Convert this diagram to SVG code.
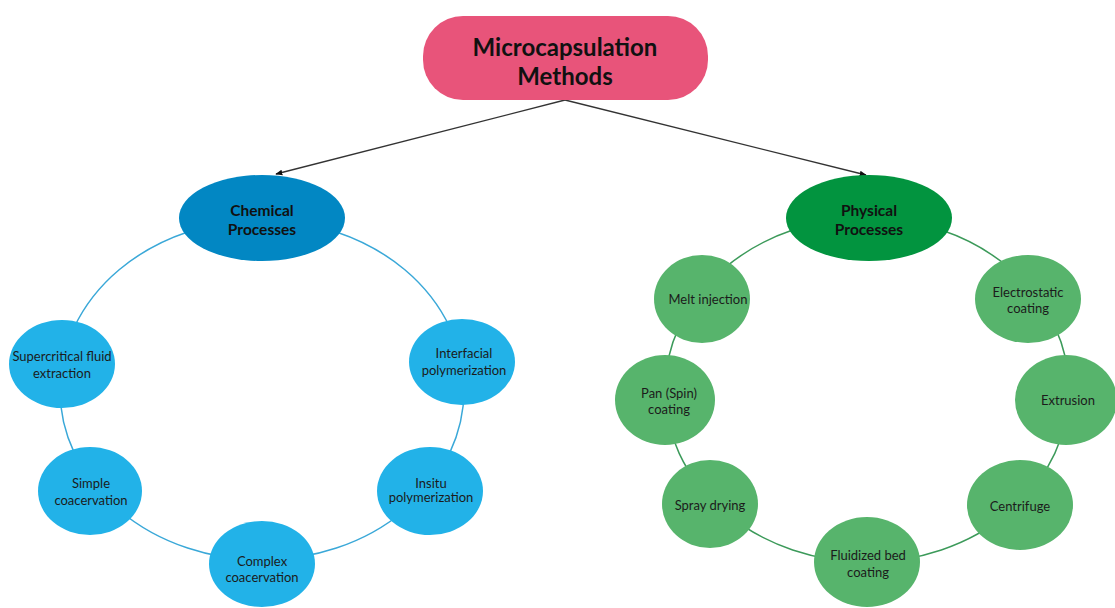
<svg xmlns="http://www.w3.org/2000/svg" width="1115" height="608" viewBox="0 0 1115 608">
<defs>
<marker id="ah" viewBox="0 0 10 10" refX="9" refY="5" markerWidth="7" markerHeight="7" orient="auto" markerUnits="userSpaceOnUse">
<path d="M0,1 L10,5 L0,9 z" fill="#111"/>
</marker>
<style>
text{font-family:Lato,"Noto Sans",sans-serif;text-anchor:middle;fill:#1b1b1b}
.title{font-size:24px;font-weight:bold;fill:#111}
.head{font-size:15.5px;font-weight:bold;fill:#111}
.lab{font-size:13px}
.blue{fill:#22B2E8}
.green{fill:#57B46C}
.ringb{fill:none;stroke:#3AA8D8;stroke-width:1.5}
.ringg{fill:none;stroke:#3C9A5A;stroke-width:1.5}
.arrow{stroke:#333;stroke-width:1.3;fill:none}
</style>
</defs>
<rect width="1115" height="608" fill="#fff"/>
<g id="connectors">
<ellipse class="ringb" cx="262" cy="390" rx="202" ry="170"/>
<ellipse class="ringg" cx="867" cy="390" rx="202" ry="172"/>
<line class="arrow" x1="565" y1="100" x2="276" y2="174" marker-end="url(#ah)"/>
<line class="arrow" x1="565" y1="100" x2="866" y2="175" marker-end="url(#ah)"/>
</g>
<g id="root">
<rect x="423" y="16" width="285" height="84" rx="40" fill="#E8547A"/>
<text class="title" x="565" y="56">Microcapsulation</text>
<text class="title" x="565" y="85">Methods</text>
</g>
<g id="chemical">
<ellipse cx="262" cy="218" rx="83" ry="43" fill="#0287C3"/>
<text class="head" x="262" y="216">Chemical</text>
<text class="head" x="262" y="235">Processes</text>
</g>
<g id="physical">
<ellipse cx="869" cy="218" rx="83" ry="43" fill="#02943F"/>
<text class="head" x="869" y="216">Physical</text>
<text class="head" x="869" y="235">Processes</text>
</g>
<g id="supercritical">
<ellipse class="blue" cx="62" cy="364" rx="53" ry="44"/>
<text class="lab" x="62" y="361">Supercritical fluid</text>
<text class="lab" x="62" y="378">extraction</text>
</g>
<g id="interfacial">
<ellipse class="blue" cx="462" cy="362" rx="53" ry="43"/>
<text class="lab" x="464" y="358">Interfacial</text>
<text class="lab" x="464" y="375">polymerization</text>
</g>
<g id="simple">
<ellipse class="blue" cx="90" cy="491" rx="52" ry="44"/>
<text class="lab" x="91" y="488">Simple</text>
<text class="lab" x="91" y="505">coacervation</text>
</g>
<g id="insitu">
<ellipse class="blue" cx="430" cy="491" rx="53" ry="44"/>
<text class="lab" x="431" y="488">Insitu</text>
<text class="lab" x="431" y="502">polymerization</text>
</g>
<g id="complex">
<ellipse class="blue" cx="262" cy="564" rx="53" ry="43"/>
<text class="lab" x="262" y="566">Complex</text>
<text class="lab" x="262" y="582">coacervation</text>
</g>
<g id="melt">
<ellipse class="green" cx="702" cy="299" rx="48" ry="44"/>
<text class="lab" x="708" y="304">Melt injection</text>
</g>
<g id="electrostatic">
<ellipse class="green" cx="1028" cy="299" rx="53" ry="44"/>
<text class="lab" x="1028" y="297">Electrostatic</text>
<text class="lab" x="1028" y="313">coating</text>
</g>
<g id="pan">
<ellipse class="green" cx="665" cy="400" rx="50" ry="45"/>
<text class="lab" x="669" y="398">Pan (Spin)</text>
<text class="lab" x="669" y="414">coating</text>
</g>
<g id="extrusion">
<ellipse class="green" cx="1066" cy="400" rx="51" ry="45"/>
<text class="lab" x="1068" y="405">Extrusion</text>
</g>
<g id="spray">
<ellipse class="green" cx="710" cy="504" rx="48" ry="44"/>
<text class="lab" x="710" y="510">Spray drying</text>
</g>
<g id="centrifuge">
<ellipse class="green" cx="1020" cy="505" rx="53" ry="45"/>
<text class="lab" x="1020" y="511">Centrifuge</text>
</g>
<g id="fluidized">
<ellipse class="green" cx="867" cy="562" rx="53" ry="45"/>
<text class="lab" x="868" y="560">Fluidized bed</text>
<text class="lab" x="868" y="577">coating</text>
</g>
</svg>
